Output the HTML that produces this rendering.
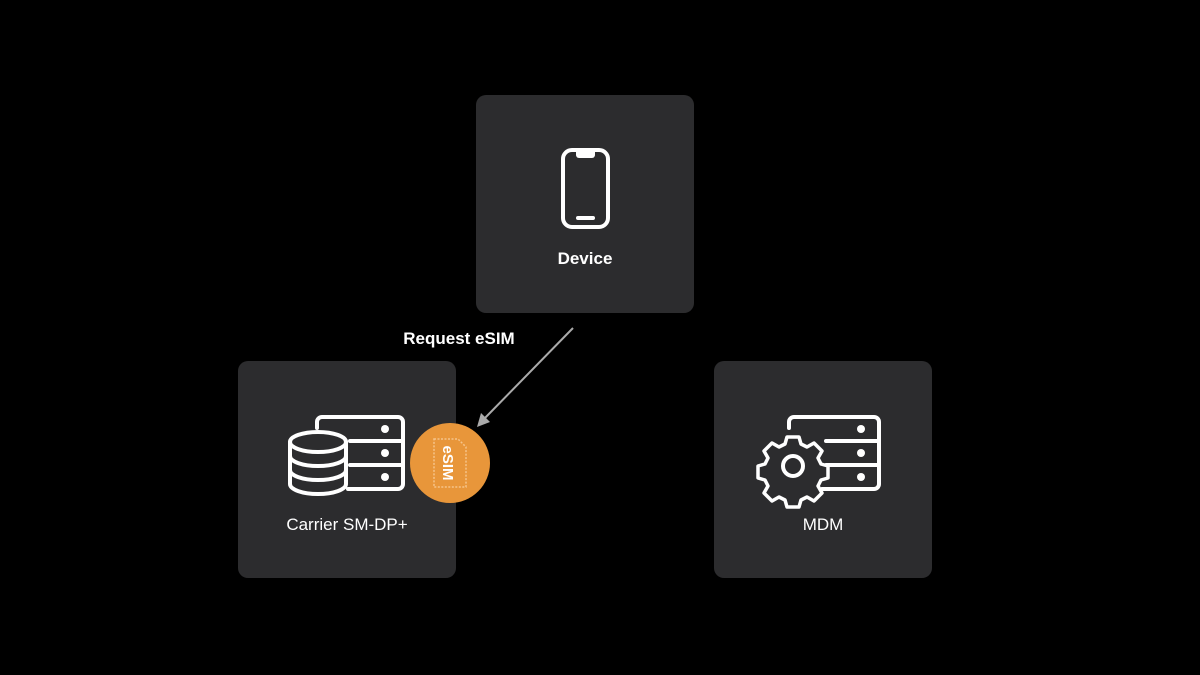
<!DOCTYPE html>
<html><head><meta charset="utf-8"><style>
html,body{margin:0;padding:0;background:#000;width:1200px;height:675px;overflow:hidden;font-family:"Liberation Sans",sans-serif;}
</style></head><body>
<svg width="1200" height="675" viewBox="0 0 1200 675" xmlns="http://www.w3.org/2000/svg">
<rect width="1200" height="675" fill="#000"/>
<rect x="476" y="95" width="218" height="218" rx="10" fill="#2c2c2e"/>
<rect x="238" y="361" width="218" height="217" rx="10" fill="#2c2c2e"/>
<rect x="714" y="361" width="218" height="217" rx="10" fill="#2c2c2e"/>
<g fill="none" stroke="#fff" stroke-width="4" stroke-linecap="round" stroke-linejoin="round">
<!-- phone -->
<rect x="563" y="150" width="45" height="77" rx="9"/>
<path d="M576 152 h19 v3 a3 3 0 0 1 -3 3 h-13 a3 3 0 0 1 -3 -3z" fill="#fff" stroke="none"/>
<line x1="578" y1="218" x2="593" y2="218"/>
<!-- carrier server -->
<path d="M317 428 v-6 a5 5 0 0 1 5 -5 h76 a5 5 0 0 1 5 5 v62 a5 5 0 0 1 -5 5 h-50"/>
<line x1="350" y1="441" x2="403" y2="441"/>
<line x1="350" y1="465" x2="403" y2="465"/>
<!-- db -->
<path d="M290 442 v42 a28 10 0 0 0 56 0 v-42" fill="#2c2c2e"/>
<ellipse cx="318" cy="442" rx="28" ry="10" fill="#2c2c2e"/>
<path d="M290 456 a28 10 0 0 0 56 0"/>
<path d="M290 470 a28 10 0 0 0 56 0"/>
<!-- mdm server -->
<path d="M789 428 v-6 a5 5 0 0 1 5 -5 h80 a5 5 0 0 1 5 5 v62 a5 5 0 0 1 -5 5 h-52"/>
<line x1="826" y1="441" x2="879" y2="441"/>
<line x1="826" y1="465" x2="879" y2="465"/>
<!-- gear -->
<path d="M787 437 h12 l2 7 l6 3 l7 -4 l8 8 l-4 7 l3 6 l7 2 v12 l-7 2 l-3 6 l4 7 l-8 8 l-7 -4 l-6 3 l-2 7 h-12 l-2 -7 l-6 -3 l-7 4 l-8 -8 l4 -7 l-3 -6 l-7 -2 v-12 l7 -2 l3 -6 l-4 -7 l8 -8 l7 4 l6 -3z" fill="#2c2c2e" stroke-width="3.5"/>
<circle cx="793" cy="466" r="10"/>
</g>
<g fill="#fff">
<circle cx="385" cy="429" r="4"/><circle cx="385" cy="453" r="4"/><circle cx="385" cy="477" r="4"/>
<circle cx="861" cy="429" r="4"/><circle cx="861" cy="453" r="4"/><circle cx="861" cy="477" r="4"/>
</g>
<!-- badge -->
<circle cx="450" cy="463" r="40" fill="#e8963a"/>
<path d="M434 439 h24 l8 8 v40 h-32z" fill="none" stroke="#f6c489" stroke-width="1.5" stroke-dasharray="2 1.5"/>
<text x="0" y="0" transform="translate(443,463) rotate(90)" text-anchor="middle" font-size="15" font-weight="bold" fill="#fff">eSIM</text>
<!-- arrow -->
<line x1="573" y1="328" x2="484" y2="419" stroke="#aaa" stroke-width="2"/>
<path d="M477 427 l4 -14 l9 9z" fill="#aaa"/>
<g fill="#fff" font-size="17" text-anchor="middle">
<text x="585" y="264" font-weight="bold">Device</text>
<text x="347" y="530">Carrier SM-DP+</text>
<text x="823" y="530">MDM</text>
<text x="459" y="344" font-weight="bold">Request eSIM</text>
</g>
</svg>
</body></html>
